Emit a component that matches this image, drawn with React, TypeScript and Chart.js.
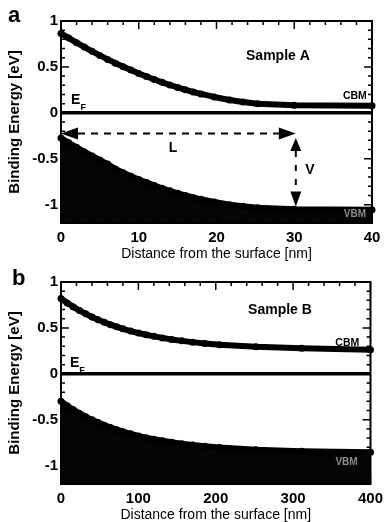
import React, { useEffect, useRef } from "react";
import { Chart, registerables } from "chart.js";
Chart.register(...registerables);

const FAM = "'Liberation Sans', Arial, Helvetica, sans-serif";

// ---------- Panel a (Sample A), distance in nm ----------
const A_X = [0, 1, 2, 3, 4, 5, 6, 7, 8, 9, 10, 11, 12, 13, 14, 15, 16, 17, 18, 19.7, 21.7, 23.4, 25.3, 30, 40];
const A_CBM = [0.865, 0.814, 0.764, 0.716, 0.67, 0.625, 0.582, 0.541, 0.502, 0.465, 0.429, 0.395, 0.363, 0.332, 0.303, 0.276, 0.251, 0.227, 0.206, 0.173, 0.14, 0.118, 0.099, 0.082, 0.077];
const A_VBM = [-0.275, -0.327, -0.376, -0.424, -0.47, -0.515, -0.558, -0.612, -0.652, -0.69, -0.726, -0.76, -0.792, -0.822, -0.85, -0.876, -0.9, -0.922, -0.942, -0.97, -1.0, -1.018, -1.035, -1.05, -1.055];
const A_X_TICKS = [0, 10, 20, 30, 40];

// ---------- Panel b (Sample B), distance in nm ----------
const B_X = [0, 8, 16, 24, 32, 40, 48, 56, 64, 72, 80, 90, 100, 110, 120, 131, 143, 156, 170, 186, 205, 252, 311, 400];
const B_CBM = [0.82, 0.772, 0.729, 0.689, 0.653, 0.619, 0.589, 0.561, 0.535, 0.512, 0.49, 0.466, 0.444, 0.425, 0.408, 0.391, 0.374, 0.359, 0.345, 0.331, 0.317, 0.294, 0.278, 0.262];
const B_VBM = [-0.3, -0.348, -0.391, -0.431, -0.467, -0.501, -0.531, -0.559, -0.585, -0.608, -0.63, -0.654, -0.676, -0.695, -0.712, -0.729, -0.746, -0.761, -0.775, -0.789, -0.803, -0.826, -0.842, -0.853];
const B_X_TICKS = [0, 100, 200, 300, 400];

// ---------- shared ----------
const Y_TICKS = [-1, -0.5, 0, 0.5, 1];
const Y_RANGE = [-1.2, 1];
const FERMI_LEVEL = 0;

type TextItem = { text: string; sub?: string; x: number; y: number; font: string; color?: string; align?: CanvasTextAlign; base?: CanvasTextBaseline };
type Arrow = { x1: number; y1: number; x2: number; y2: number; dash: number[]; h1: number; h2: number; half: number };
type PanelCfg = {
  letter: string; letterPos: [number, number];
  xs: number[]; cbm: number[]; vbm: number[]; xTicks: number[]; xMinor: number;
  texts: TextItem[]; arrows: Arrow[];
};

const PANEL_A: PanelCfg = {
  letter: "a", letterPos: [8, 22],
  xs: A_X, cbm: A_CBM, vbm: A_VBM, xTicks: A_X_TICKS, xMinor: 2,
  texts: [
    { text: "Sample A", x: 27.9, y: 0.62, font: `bold 14px ${FAM}` },
    { text: "CBM", x: 37.8, y: 0.18, font: `bold 10.5px ${FAM}` },
    { text: "E", sub: "F", x: 1.3, y: 0.096, font: `bold 14px ${FAM}`, align: "left", base: "alphabetic" },
    { text: "L", x: 14.4, y: -0.39, font: `bold 14px ${FAM}` },
    { text: "V", x: 32.0, y: -0.62, font: `bold 14px ${FAM}` },
    { text: "VBM", x: 37.8, y: -1.1, font: `bold 10px ${FAM}`, color: "#8a8a8a" },
  ],
  arrows: [
    { x1: 0, y1: -0.225, x2: 30.2, y2: -0.225, dash: [7, 6], h1: 17, h2: 17, half: 6 },
    { x1: 30.2, y1: -0.275, x2: 30.2, y2: -1.02, dash: [6, 8], h1: 13, h2: 15, half: 5.5 },
  ],
};

const PANEL_B: PanelCfg = {
  letter: "b", letterPos: [12, 24],
  xs: B_X, cbm: B_CBM, vbm: B_VBM, xTicks: B_X_TICKS, xMinor: 20,
  texts: [
    { text: "Sample B", x: 283, y: 0.695, font: `bold 14px ${FAM}` },
    { text: "CBM", x: 370, y: 0.33, font: `bold 10.5px ${FAM}` },
    { text: "E", sub: "F", x: 11.6, y: 0.074, font: `bold 14px ${FAM}`, align: "left", base: "alphabetic" },
    { text: "VBM", x: 369, y: -0.96, font: `bold 10px ${FAM}`, color: "#8a8a8a" },
  ],
  arrows: [],
};

function head(ctx: CanvasRenderingContext2D, tx: number, ty: number, ux: number, uy: number, len: number, half: number) {
  const bx = tx - ux * len, by = ty - uy * len;
  ctx.beginPath();
  ctx.moveTo(tx, ty);
  ctx.lineTo(bx - uy * half, by + ux * half);
  ctx.lineTo(bx + uy * half, by - ux * half);
  ctx.closePath();
  ctx.fill();
}

function makeDecor(p: PanelCfg) {
  return {
    id: "decor",
    afterDatasetsDraw(chart: any) {
      const { ctx, chartArea: a, scales } = chart;
      const xs = scales.x, ys = scales.y;
      ctx.save();
      ctx.strokeStyle = "#000";
      ctx.fillStyle = "#000";
      for (const ar of p.arrows) {
        const x1 = xs.getPixelForValue(ar.x1), y1 = ys.getPixelForValue(ar.y1);
        const x2 = xs.getPixelForValue(ar.x2), y2 = ys.getPixelForValue(ar.y2);
        const dx = x2 - x1, dy = y2 - y1, L = Math.hypot(dx, dy);
        const ux = dx / L, uy = dy / L;
        ctx.lineWidth = 2;
        ctx.setLineDash(ar.dash);
        ctx.beginPath();
        ctx.moveTo(x1 + ux * ar.h1, y1 + uy * ar.h1);
        ctx.lineTo(x2 - ux * ar.h2, y2 - uy * ar.h2);
        ctx.stroke();
        ctx.setLineDash([]);
        head(ctx, x1, y1, -ux, -uy, ar.h1, ar.half);
        head(ctx, x2, y2, ux, uy, ar.h2, ar.half);
      }
      ctx.lineWidth = 2;
      ctx.strokeRect(a.left, a.top, a.right - a.left, a.bottom - a.top);
      ctx.lineWidth = 1.5;
      const xMin = xs.min, xMax = xs.max;
      for (let v = xMin; v <= xMax + 1e-9; v += p.xMinor) {
        const major = p.xTicks.some((t) => Math.abs(t - v) < 1e-6);
        const len = major ? 8 : 4;
        const px = xs.getPixelForValue(v);
        ctx.beginPath();
        ctx.moveTo(px, a.top); ctx.lineTo(px, a.top + len);
        ctx.moveTo(px, a.bottom); ctx.lineTo(px, a.bottom - len);
        ctx.stroke();
      }
      for (let k = -11; k <= 10; k++) {
        const v = k / 10;
        const major = Y_TICKS.some((t) => Math.abs(t - v) < 1e-6);
        const len = major ? 8 : 4;
        const py = ys.getPixelForValue(v);
        ctx.beginPath();
        ctx.moveTo(a.left, py); ctx.lineTo(a.left + len, py);
        ctx.moveTo(a.right, py); ctx.lineTo(a.right - len, py);
        ctx.stroke();
      }
      for (const t of p.texts) {
        const px = xs.getPixelForValue(t.x), py = ys.getPixelForValue(t.y);
        ctx.font = t.font;
        ctx.fillStyle = t.color || "#000";
        ctx.textAlign = t.align || "center";
        ctx.textBaseline = t.base || "middle";
        ctx.fillText(t.text, px, py);
        if (t.sub) {
          const w = ctx.measureText(t.text).width;
          ctx.font = `bold 9px ${FAM}`;
          ctx.textAlign = "left";
          ctx.fillText(t.sub, px + w, py + 6);
        }
      }
      ctx.restore();
    },
    afterDraw(chart: any) {
      const ctx = chart.ctx;
      ctx.save();
      ctx.font = `bold 22px ${FAM}`;
      ctx.fillStyle = "#000";
      ctx.textAlign = "left";
      ctx.textBaseline = "alphabetic";
      ctx.fillText(p.letter, p.letterPos[0], p.letterPos[1]);
      ctx.restore();
    },
  };
}

function buildConfig(p: PanelCfg): any {
  const xMax = p.xTicks[p.xTicks.length - 1];
  const line = (ys: number[]) => p.xs.map((x, i) => ({ x, y: ys[i] }));
  const curve = {
    showLine: true, borderColor: "#000", borderWidth: 6, pointRadius: 3.5,
    pointBackgroundColor: "#000", pointBorderWidth: 0, tension: 0, clip: false,
    borderJoinStyle: "round", borderCapStyle: "round",
  };
  return {
    type: "scatter",
    data: {
      datasets: [
        { label: "CBM", data: line(p.cbm), ...curve },
        {
          label: "EF", data: [{ x: p.xTicks[0], y: FERMI_LEVEL }, { x: xMax, y: FERMI_LEVEL }], showLine: true,
          borderColor: "#000", borderWidth: 3.5, pointRadius: 0,
        },
        { label: "VBM", data: line(p.vbm), ...curve, fill: "start", backgroundColor: "#050505" },
      ],
    },
    options: {
      responsive: false,
      animation: false,
      events: [],
      layout: { padding: { top: 21, right: 17, left: 0, bottom: 0 } },
      plugins: { legend: { display: false }, tooltip: { enabled: false } },
      scales: {
        x: {
          type: "linear", min: p.xTicks[0], max: xMax,
          afterBuildTicks: (s: any) => { s.ticks = p.xTicks.map((v) => ({ value: v })); },
          afterFit: (s: any) => { s.height = 38; },
          grid: { display: false, drawTicks: false }, border: { display: false },
          ticks: { color: "#000", padding: 6, maxRotation: 0, autoSkip: false, callback: (v: any) => String(v), font: { family: FAM, size: 15, weight: "bold" } },
          title: { display: true, text: "Distance from the surface [nm]", color: "#000", padding: 0, font: { family: FAM, size: 14, lineHeight: 1 } },
        },
        y: {
          type: "linear", min: Y_RANGE[0], max: Y_RANGE[1],
          afterBuildTicks: (s: any) => { s.ticks = Y_TICKS.map((v) => ({ value: v })); },
          afterFit: (s: any) => { s.width = 61; },
          grid: { display: false, drawTicks: false }, border: { display: false },
          ticks: { color: "#000", padding: 3, autoSkip: false, callback: (v: any) => String(v), font: { family: FAM, size: 15, weight: "bold" } },
          title: { display: true, text: "Binding Energy [eV]", color: "#000", padding: { top: 6, bottom: 0 }, font: { family: FAM, size: 15, weight: "bold" } },
        },
      },
    },
    plugins: [makeDecor(p)],
  };
}

function Panel({ cfg }: { cfg: PanelCfg }) {
  const ref = useRef<HTMLCanvasElement>(null);
  useEffect(() => {
    const chart = new Chart(ref.current as HTMLCanvasElement, buildConfig(cfg));
    return () => chart.destroy();
  }, [cfg]);
  return <canvas ref={ref} width={389} height={261} style={{ display: "block", width: 389, height: 261 }} />;
}

export default function App() {
  return (
    <div style={{ position: "absolute", left: 0, top: 0, width: 389, height: 522, background: "#fff" }}>
      <Panel cfg={PANEL_A} />
      <Panel cfg={PANEL_B} />
    </div>
  );
}
